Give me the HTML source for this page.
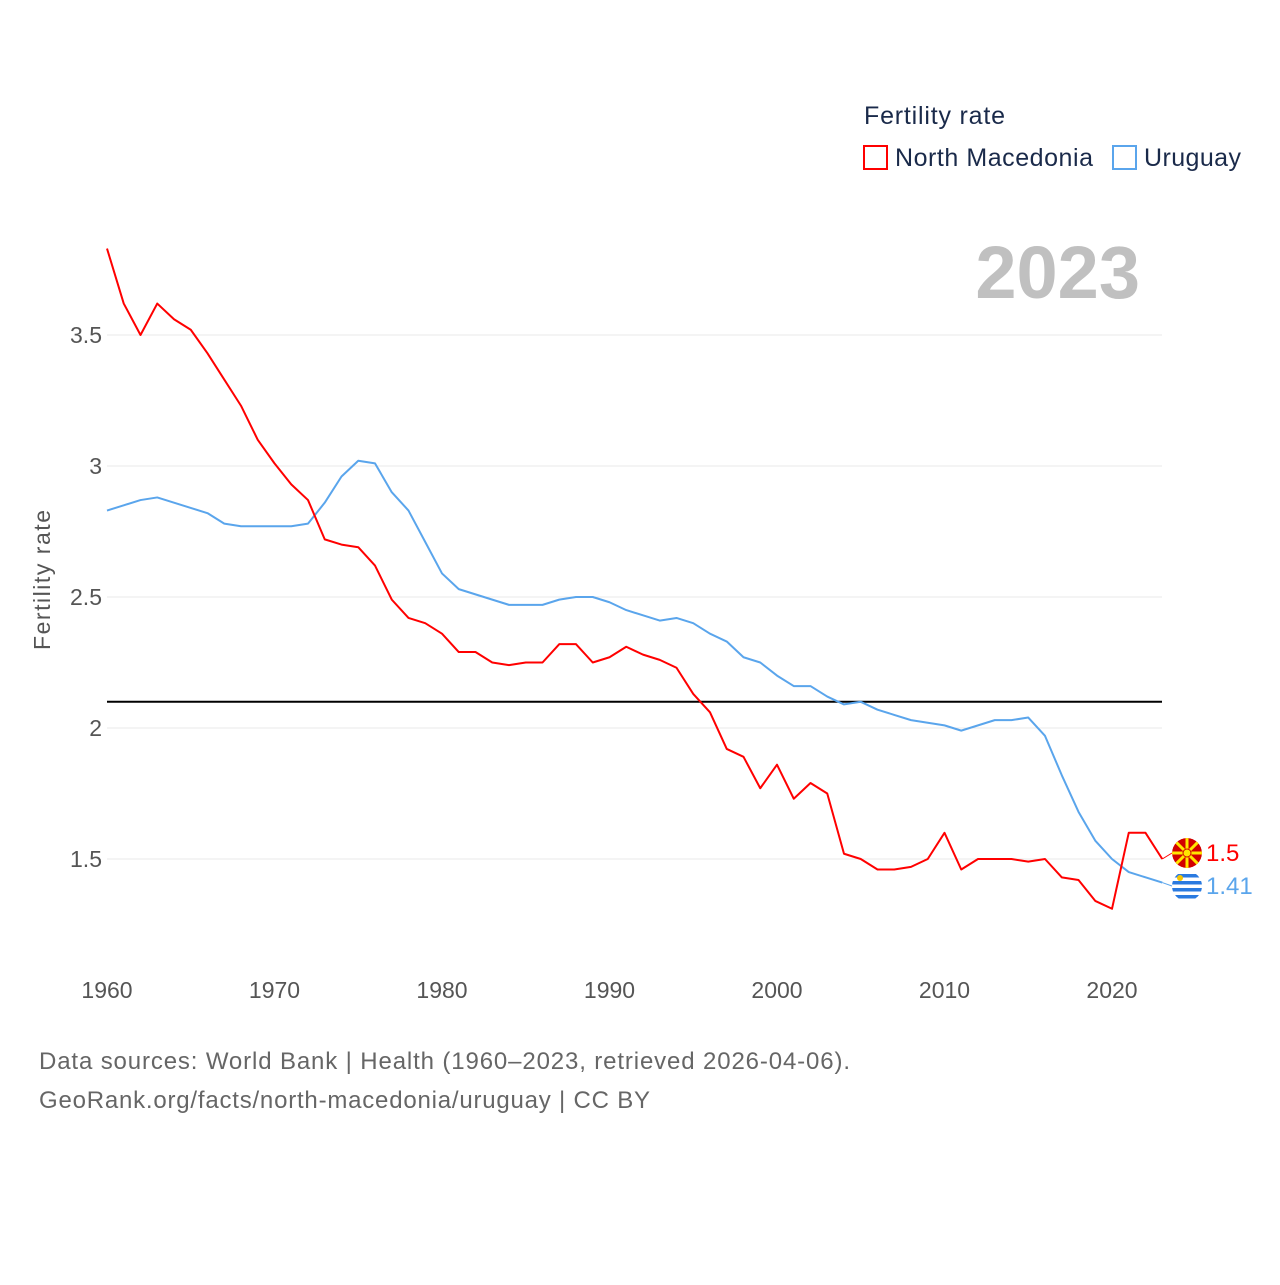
<!DOCTYPE html>
<html><head><meta charset="utf-8"><style>
body{margin:0;background:#fff;font-family:"Liberation Sans",sans-serif}
svg text{font-family:"Liberation Sans",sans-serif}
</style></head><body>
<svg id="chart" width="1280" height="1280" viewBox="0 0 1280 1280" xmlns="http://www.w3.org/2000/svg">
<defs>
<clipPath id="clipMk"><circle cx="1187" cy="853" r="15"/></clipPath>
<clipPath id="clipUy"><circle cx="1187" cy="886" r="15"/></clipPath>
</defs>
<rect width="1280" height="1280" fill="#fff"/>
<g id="grid"></g>
<g id="xticks"></g>
<text x="50" y="580" transform="rotate(-90 50 580)" text-anchor="middle" font-size="23" fill="#555" textLength="140">Fertility rate</text>
<text x="1140" y="298" text-anchor="end" font-size="74" font-weight="bold" fill="#c0c0c0">2023</text>
<g>
<text x="864" y="124" font-size="25" fill="#1a2a4a" textLength="141">Fertility rate</text>
<g><rect x="864" y="146" width="23" height="23" fill="none" stroke="#ff0000" stroke-width="2"/><text x="895" y="166" font-size="25" fill="#1a2a4a" textLength="198">North Macedonia</text></g>
<g><rect x="1113" y="146" width="23" height="23" fill="none" stroke="#5aa5ec" stroke-width="2"/><text x="1144" y="166" font-size="25" fill="#1a2a4a" textLength="97">Uruguay</text></g>
</g>
<g id="series"></g>
<text x="39" y="1069" font-size="24" fill="#666" textLength="811">Data sources: World Bank | Health (1960–2023, retrieved 2026-04-06).</text>
<text x="39" y="1108" font-size="24" fill="#666" textLength="611">GeoRank.org/facts/north-macedonia/uruguay | CC BY</text>
</svg>
<script>
const years=[];for(let y=1960;y<=2023;y++)years.push(y);
const macedonia=[3.83,3.62,3.50,3.62,3.56,3.52,3.43,3.33,3.23,3.10,3.01,2.93,2.87,2.72,2.70,2.69,2.62,2.49,2.42,2.40,2.36,2.29,2.29,2.25,2.24,2.25,2.25,2.32,2.32,2.25,2.27,2.31,2.28,2.26,2.23,2.13,2.06,1.92,1.89,1.77,1.86,1.73,1.79,1.75,1.52,1.50,1.46,1.46,1.47,1.50,1.60,1.46,1.50,1.50,1.50,1.49,1.50,1.43,1.42,1.34,1.31,1.60,1.60,1.50];
const uruguay=[2.83,2.85,2.87,2.88,2.86,2.84,2.82,2.78,2.77,2.77,2.77,2.77,2.78,2.86,2.96,3.02,3.01,2.90,2.83,2.71,2.59,2.53,2.51,2.49,2.47,2.47,2.47,2.49,2.50,2.50,2.48,2.45,2.43,2.41,2.42,2.40,2.36,2.33,2.27,2.25,2.20,2.16,2.16,2.12,2.09,2.10,2.07,2.05,2.03,2.02,2.01,1.99,2.01,2.03,2.03,2.04,1.97,1.82,1.68,1.57,1.50,1.45,1.43,1.41];
const yTicks=[1.5,2,2.5,3,3.5];
const xTicks=[1960,1970,1980,1990,2000,2010,2020];
const replacement=2.1;
const NS="http://www.w3.org/2000/svg";
const X=y=>107+(y-1960)*16.75;
const Y=v=>728-(v-2)*262;
function mk(t,a,p){const e=document.createElementNS(NS,t);for(const k in a)e.setAttribute(k,a[k]);p.appendChild(e);return e;}
const grid=document.getElementById('grid');
yTicks.forEach(v=>{
 const l=mk('line',{x1:107,x2:1162,y1:Y(v),y2:Y(v),stroke:'#e8e8e8','stroke-width':1},grid);
 
 
 const t=mk('text',{x:102,y:Y(v)+8,'text-anchor':'end','font-size':23,fill:'#555'},grid);
 t.textContent=String(v);
 
 
});
const xt=document.getElementById('xticks');
xTicks.forEach(v=>{
 const t=mk('text',{x:X(v),y:998,'text-anchor':'middle','font-size':23,fill:'#555'},xt);
 t.textContent=String(v);
 
 
});
const s=document.getElementById('series');
const rl=mk('line',{x1:107,x2:1162,y1:Y(replacement),y2:Y(replacement),stroke:'#000','stroke-width':2},s);


function line(vals,col,name){
 const p=mk('polyline',{points:vals.map((v,i)=>X(years[i])+','+Y(v)).join(' '),fill:'none',stroke:col,'stroke-width':2,'stroke-linejoin':'round'},s);
 
 
}
line(uruguay,'#5aa5ec','uruguay-line');
line(macedonia,'#ff0000','north-macedonia-line');
const lastX=X(2023);
function endLabel(v,col,name,fy,clip,flagFn){
 mk('line',{x1:lastX,y1:Y(v),x2:1172,y2:fy,stroke:col,'stroke-width':1},s);
 const g=mk('g',{'clip-path':'url(#'+clip+')'},s);
 
 
 flagFn(g,1187,fy);
 const t=mk('text',{x:1206,y:fy+8,'font-size':24,fill:col},s);
 t.textContent=String(v);
 
 
}
endLabel(macedonia[macedonia.length-1],'#ff0000','north-macedonia',853,'clipMk',(g,cx,cy)=>{
 mk('circle',{cx,cy,r:15,fill:'#d20000'},g);
 for(let i=0;i<8;i++){const a=i*Math.PI/4;mk('line',{x1:cx,y1:cy,x2:cx+15*Math.cos(a),y2:cy+15*Math.sin(a),stroke:'#ffe600','stroke-width':3},g);}
 mk('circle',{cx,cy,r:4,fill:'#ffe600',stroke:'#d20000','stroke-width':1},g);
});
endLabel(uruguay[uruguay.length-1],'#5aa5ec','uruguay',886,'clipUy',(g,cx,cy)=>{
 mk('circle',{cx,cy,r:15,fill:'#fff'},g);
 [-11,-4,3,10].forEach(o=>mk('rect',{x:cx-15,y:cy+o-1,width:30,height:3.5,fill:'#2a7ae0'},g));
 mk('circle',{cx:cx-7,cy:cy-8,r:3,fill:'#f5c400'},g);
});
</script>
</body></html>
